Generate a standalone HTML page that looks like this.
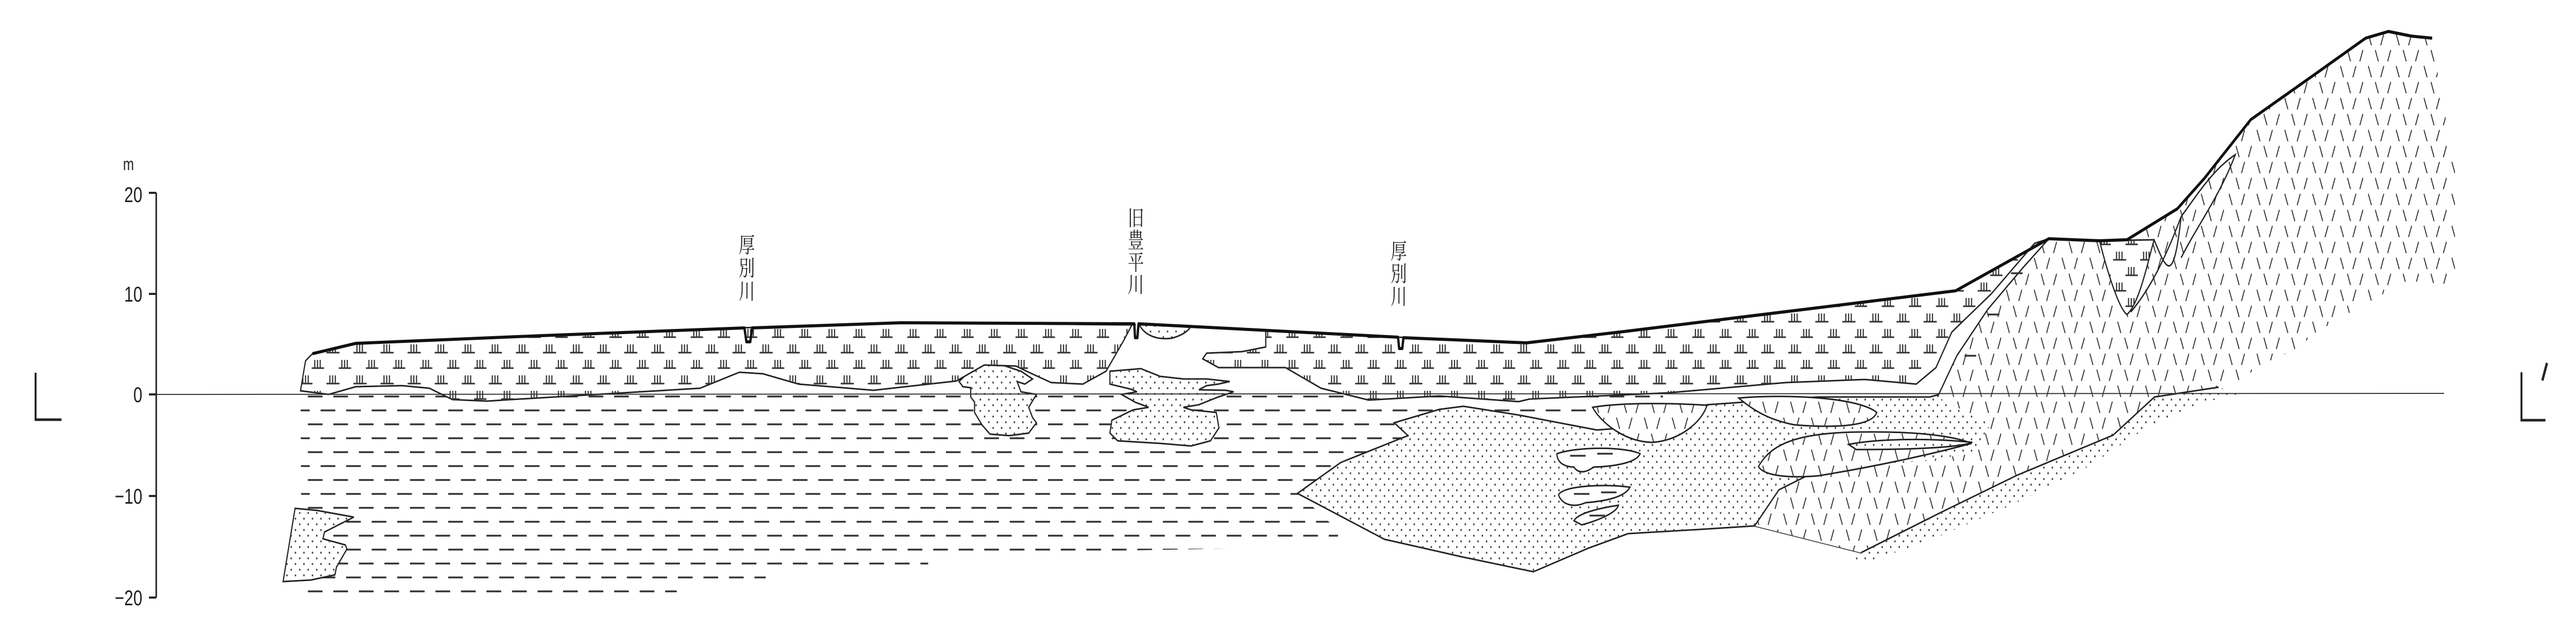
<!DOCTYPE html>
<html><head><meta charset="utf-8"><style>html,body{margin:0;padding:0;background:#fff;width:100vw;height:100vh;overflow:hidden}svg{display:block;width:100vw;height:100vh}</style></head>
<body>
<svg xmlns="http://www.w3.org/2000/svg" viewBox="0 0 6661 1220" preserveAspectRatio="none">
<defs>
<pattern id="dash" width="66" height="54" patternUnits="userSpaceOnUse">
<g stroke="#333" stroke-width="3.5"><line x1="4" y1="13" x2="42" y2="13"/><line x1="37" y1="40" x2="66" y2="40"/><line x1="0" y1="40" x2="9" y2="40"/></g></pattern>
<pattern id="peat" width="70" height="60" patternUnits="userSpaceOnUse">
<g stroke="#333" stroke-width="3" fill="none">
<line x1="4" y1="24" x2="38" y2="24"/><line x1="13" y1="8" x2="13" y2="24"/><line x1="20" y1="8" x2="20" y2="24"/><line x1="27" y1="8" x2="27" y2="24"/>
<line x1="36" y1="54" x2="68" y2="54"/><line x1="44" y1="38" x2="44" y2="54"/><line x1="51" y1="38" x2="51" y2="54"/><line x1="58" y1="38" x2="58" y2="54"/>
</g></pattern>
<pattern id="dot" width="22" height="22" patternUnits="userSpaceOnUse"><circle cx="5" cy="5" r="2" fill="#444"/><circle cx="16" cy="16" r="2" fill="#444"/></pattern>
<pattern id="slash" width="72" height="62" patternUnits="userSpaceOnUse">
<g stroke="#333" stroke-width="2.5"><line x1="4" y1="4" x2="12" y2="26"/><line x1="44" y1="4" x2="36" y2="26"/><line x1="22" y1="35" x2="30" y2="57"/><line x1="62" y1="35" x2="54" y2="57"/></g></pattern>
</defs>

<g stroke="#222" stroke-width="4" fill="none">
<line x1="404" y1="374" x2="404" y2="1159"/>
<line x1="385" y1="374" x2="404" y2="374"/><line x1="385" y1="570" x2="404" y2="570"/><line x1="385" y1="765" x2="404" y2="765"/><line x1="385" y1="962" x2="404" y2="962"/><line x1="385" y1="1159" x2="404" y2="1159"/>
<polyline points="92,723 92,814 159,814" stroke-width="5"/>
<polyline points="6520,722 6520,815 6582,815" stroke-width="5"/>
<line x1="6574" y1="738" x2="6586" y2="704" stroke-width="6"/>
</g>
<g font-family="'Liberation Sans',sans-serif" font-size="42" fill="#222" text-anchor="end">
<text x="368" y="392">20</text><text x="368" y="585">10</text><text x="368" y="780">0</text><text x="368" y="977">−10</text><text x="368" y="1174">−20</text>
</g>
<text x="318" y="330" font-family="'Liberation Sans',sans-serif" font-size="34" fill="#222">m</text>

<polygon fill="url(#dash)" points="777,750 4300,750 4300,800 3900,800 3620,850 3355,957 3420,1000 3460,1030 3460,1060 2400,1075 2400,1105 1980,1110 1980,1130 1750,1135 1750,1170 880,1170 880,1150 780,1150"/>

<polygon fill="#fff" stroke="#222" stroke-width="3" points="3355,957 3467,897 3620,851 3641,845 3605,820 3722,794 3784,788 3927,805 4129,834 4200,830 4414,785 4700,770 4990,770 5040,760 5200,800 5250,900 5013,996 4812,1072 4537,1020 4414,1026 4210,1035 4108,1063 3965,1109 3780,1080 3580,1046"/>
<polygon fill="url(#dot)" points="3355,957 3467,897 3620,851 3641,845 3605,820 3722,794 3784,788 3927,805 4129,834 4200,830 4414,785 4700,770 4990,770 5040,760 5200,800 5250,900 5013,996 4812,1072 4537,1020 4414,1026 4210,1035 4108,1063 3965,1109 3780,1080 3580,1046"/>

<polygon fill="#fff" points="5298,463 5429,467 5500,465 5630,405 5700,346 5820,232 5986,144 6117,74 6176,61 6235,70 6289,74 6318,210 6348,303 6348,552 6223,545 6093,599 5986,646 5939,677 5868,700 5785,739 5737,751 5571,770 5464,844 5215,922 5013,996 4812,1072 4537,1020 4600,950 4700,915 4900,900 5100,880 5150,820 5060,790 5010,770 5060,690 5140,600 5230,520"/>
<polygon fill="url(#slash)" points="5298,463 5429,467 5500,465 5630,405 5700,346 5820,232 5986,144 6117,74 6176,61 6235,70 6289,74 6318,210 6348,303 6348,552 6223,545 6093,599 5986,646 5939,677 5868,700 5785,739 5737,751 5571,770 5464,844 5215,922 5013,996 4812,1072 4537,1020 4600,950 4700,915 4900,900 5100,880 5150,820 5060,790 5010,770 5060,690 5140,600 5230,520"/>
<polyline fill="none" stroke="#222" stroke-width="3" points="4537,1020 4600,950 4680,920"/>
<polyline fill="none" stroke="#222" stroke-width="3" points="5737,751 5571,770 5464,844 5215,922 5013,996 4812,1072"/>
<polygon fill="url(#dot)" points="5737,751 5571,770 5464,844 5215,922 5013,996 4812,1072 4790,1090 4850,1085 5000,1045 5200,980 5400,905 5560,825 5700,780 5790,765"/>

<path d="M4118,790 C4200,780 4330,782 4414,786 C4400,820 4340,856 4270,858 C4200,856 4140,820 4118,790 Z" fill="#fff" stroke="#222" stroke-width="3"/>
<path d="M4118,790 C4200,780 4330,782 4414,786 C4400,820 4340,856 4270,858 C4200,856 4140,820 4118,790 Z" fill="url(#slash)"/>
<path d="M4496,772 C4600,765 4800,768 4853,800 C4840,828 4740,830 4640,824 C4580,815 4540,800 4496,772 Z" fill="#fff" stroke="#222" stroke-width="3"/>
<path d="M4496,772 C4600,765 4800,768 4853,800 C4840,828 4740,830 4640,824 C4580,815 4540,800 4496,772 Z" fill="url(#slash)"/>
<path d="M4547,905 C4580,860 4650,840 4800,838 C4950,836 5050,845 5098,860 C5000,880 4850,905 4700,923 C4620,928 4560,922 4547,905 Z" fill="#fff" stroke="#222" stroke-width="3"/>
<path d="M4547,905 C4580,860 4650,840 4800,838 C4950,836 5050,845 5098,860 C5000,880 4850,905 4700,923 C4620,928 4560,922 4547,905 Z" fill="url(#slash)"/>
<path d="M4780,862 C4860,850 5000,850 5100,858 C5060,870 4900,872 4800,872 Z" fill="#fff" stroke="#222" stroke-width="3"/>
<path d="M4780,862 C4860,850 5000,850 5100,858 C5060,870 4900,872 4800,872 Z" fill="url(#dot)"/>

<g fill="#fff" stroke="#222" stroke-width="3">
<path d="M4026,880 C4080,866 4200,866 4241,880 C4230,900 4160,905 4120,906 C4100,918 4080,918 4070,906 C4040,905 4026,895 4026,880 Z"/>
<path d="M4030,960 C4040,942 4150,938 4215,945 C4200,965 4150,972 4100,975 C4070,985 4040,980 4030,960 Z"/>
<path d="M4070,1010 C4080,995 4140,985 4185,980 C4180,995 4130,1010 4090,1018 Z"/>
</g>
<g stroke="#333" stroke-width="3.5"><line x1="4060" y1="884" x2="4100" y2="884"/><line x1="4130" y1="880" x2="4170" y2="880"/><line x1="4070" y1="958" x2="4110" y2="958"/><line x1="4140" y1="955" x2="4180" y2="955"/><line x1="4110" y1="1000" x2="4150" y2="1000"/></g>

<polygon fill="#fff" stroke="#222" stroke-width="3" points="763,986 820,990 915,1003 870,1020 839,1032 835,1045 893,1057 897,1065 870,1100 866,1115 804,1125 732,1128"/>
<polygon fill="url(#dot)" points="763,986 820,990 915,1003 870,1020 839,1032 835,1045 893,1057 897,1065 870,1100 866,1115 804,1125 732,1128"/>

<polygon fill="#fff" stroke="#222" stroke-width="3" points="2480,740 2520,710 2580,705 2640,720 2670,735 2650,745 2630,740 2640,760 2680,765 2660,790 2670,810 2680,820 2660,840 2610,845 2560,842 2540,825 2520,800 2520,780 2510,770 2510,752 2490,750"/>
<polygon fill="url(#dot)" points="2480,740 2520,710 2580,705 2640,720 2670,735 2650,745 2630,740 2640,760 2680,765 2660,790 2670,810 2680,820 2660,840 2610,845 2560,842 2540,825 2520,800 2520,780 2510,770 2510,752 2490,750"/>
<polygon fill="#fff" stroke="#222" stroke-width="3" points="2870,720 2950,715 3000,730 3060,735 3120,735 3180,740 3150,745 3120,748 3100,756 3170,757 3190,760 3150,770 3100,785 3060,790 3080,795 3145,800 3152,830 3130,855 3080,865 3000,860 2890,855 2870,840 2875,815 2930,795 2970,790 2935,780 2900,765 2940,760 2925,755 2870,745"/>
<polygon fill="url(#dot)" points="2870,720 2950,715 3000,730 3060,735 3120,735 3180,740 3150,745 3120,748 3100,756 3170,757 3190,760 3150,770 3100,785 3060,790 3080,795 3145,800 3152,830 3130,855 3080,865 3000,860 2890,855 2870,840 2875,815 2930,795 2970,790 2935,780 2900,765 2940,760 2925,755 2870,745"/>
<path d="M2946,630 C2960,650 2990,660 3030,656 C3060,650 3075,640 3080,632 Z" fill="url(#dot)" stroke="#222" stroke-width="3"/>

<polygon fill="#fff" stroke="#222" stroke-width="3" points="808,686 920,666 1400,651 1912,636 2330,626 2900,630 2937,630 2927,630 2906,660 2860,720 2800,745 2718,742 2660,722 2627,710 2545,708 2473,739 2259,757 2065,745 1973,725 1912,722 1810,753 1300,776 1260,778 1170,775 1110,753 1040,748 920,750 850,765 777,758 790,700"/>
<polygon fill="url(#peat)" points="808,686 920,666 1400,651 1912,636 2330,626 2900,630 2937,630 2927,630 2906,660 2860,720 2800,745 2718,742 2660,722 2627,710 2545,708 2473,739 2259,757 2065,745 1973,725 1912,722 1810,753 1300,776 1260,778 1170,775 1110,753 1040,748 920,750 850,765 777,758 790,700"/>
<polygon fill="#fff" stroke="#222" stroke-width="3" points="3273,641 3615,654 3947,665 4200,643 5057,564 5298,463 5261,472 5149,570 5047,644 5006,713 4955,745 4822,736 4618,742 4312,762 3955,774 3927,779 3722,768 3539,776 3416,753 3324,713 3212,713 3151,713 3110,696 3120,685 3212,682 3273,673"/>
<polygon fill="url(#peat)" points="3273,641 3615,654 3947,665 4200,643 5057,564 5298,463 5261,472 5149,570 5047,644 5006,713 4955,745 4822,736 4618,742 4312,762 3955,774 3927,779 3722,768 3539,776 3416,753 3324,713 3212,713 3151,713 3110,696 3120,685 3212,682 3273,673"/>
<polyline fill="none" stroke="#222" stroke-width="3" points="5298,463 5230,520 5140,600 5060,690 5010,770"/>
<g stroke="#333" stroke-width="3.5"><line x1="5200" y1="530" x2="5230" y2="530"/><line x1="5140" y1="610" x2="5170" y2="610"/><line x1="5080" y1="690" x2="5110" y2="690"/></g>
<path d="M5429,467 C5450,530 5480,600 5500,610 C5530,590 5550,520 5570,465 Z" fill="#fff" stroke="#222" stroke-width="3"/>
<path d="M5429,467 C5450,530 5480,600 5500,610 C5530,590 5550,520 5570,465 Z" fill="url(#peat)"/>
<path d="M5570,465 C5600,520 5620,560 5640,420 M5510,605 C5560,560 5600,500 5640,420" fill="none" stroke="#222" stroke-width="3"/>
<path d="M5640,420 C5680,380 5720,330 5780,300 C5740,380 5680,440 5640,500" fill="none" stroke="#222" stroke-width="3"/>

<line x1="404" y1="765" x2="6320" y2="763" stroke="#333" stroke-width="2"/>

<polyline fill="none" stroke="#111" stroke-width="6" stroke-linejoin="round" points="808,686 920,666 1400,651 1925,636 1930,663 1940,663 1945,636 2330,626 2933,628 2935,655 2941,655 2944,628 3615,654 3618,676 3626,676 3629,655 3947,665 4200,643 5057,564 5298,463 5429,467 5500,465 5630,405 5700,346 5820,232 5986,144 6117,74 6176,61 6235,70 6289,74"/>

<g font-family="'Liberation Serif','Noto Serif CJK SC',serif" font-size="42" fill="#222" text-anchor="middle">
<text x="1931" y="490">厚</text><text x="1931" y="535">別</text><text x="1931" y="580">川</text>
<text x="2937" y="438">旧</text><text x="2937" y="481">豊</text><text x="2937" y="524">平</text><text x="2937" y="567">川</text>
<text x="3617" y="502">厚</text><text x="3617" y="546">別</text><text x="3617" y="590">川</text>
</g>
</svg>
</body></html>
